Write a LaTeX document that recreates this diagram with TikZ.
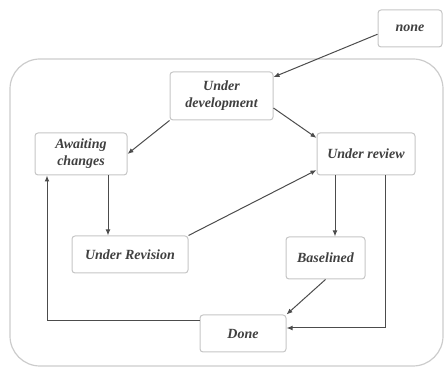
\documentclass[tikz,border=0pt]{standalone}
\usepackage{fontspec}
\setmainfont{Liberation Serif}
\usetikzlibrary{arrows.meta, positioning}

\begin{document}
\begin{tikzpicture}[
    x=0.5pt, y=-0.5pt,
    state/.style={rectangle, draw=gray!45, fill=white, line width=0.5pt, rounded corners=1.5pt, align=center, inner sep=0pt,
        text=black!75, font=\fontsize{7}{8.5}\selectfont\bfseries\itshape},
    arrow/.style={-{Latex[length=3pt, width=2.4pt]}, line width=0.5pt, draw=black!70}
]
    \useasboundingbox (0,0) rectangle (444,368);
    % outer frame
    \draw[gray!40, line width=0.6pt, rounded corners=15pt] (10,59) rectangle (443,366);

    \node[state, minimum width=32pt, minimum height=18.5pt] (none) at (410,28.5) {none};
    \node[state, minimum width=51.5pt, minimum height=24pt] (udev) at (221.5,96) {Under\\ development};
    \node[state, minimum width=46pt, minimum height=21pt] (awaiting) at (81,154) {Awaiting\\ changes};
    \node[state, minimum width=49pt, minimum height=21pt] (review) at (366,154) {Under review};
    \node[state, minimum width=58pt, minimum height=18.5pt] (revision) at (130,254.5) {Under Revision};
    \node[state, minimum width=39.5pt, minimum height=21pt] (baselined) at (325.5,258) {Baselined};
    \node[state, minimum width=43pt, minimum height=18.5pt] (done) at (243,333.5) {Done};

    \draw[arrow] (none.190) -- (udev.20);
    \draw[arrow] (udev.south west) -- (awaiting.east);
    \draw[arrow] (udev.-13) -- (review.162);
    \draw[arrow] ([xshift=13.5pt]awaiting.south) coordinate (a1) -- (a1 |- revision.north);
    \draw[arrow] (revision.north east) -- (review.198);
    \draw[arrow] ([xshift=-15.5pt]review.south) coordinate (r1) -- (r1 |- baselined.north);
    \draw[arrow] ([xshift=9.5pt]review.south) |- ([yshift=2.75pt]done.east);
    \draw[arrow] (baselined.south) -- (done.north east);
    \draw[arrow] ([yshift=6.25pt]done.west) -| ([xshift=-17pt]awaiting.south);
\end{tikzpicture}
\end{document}
